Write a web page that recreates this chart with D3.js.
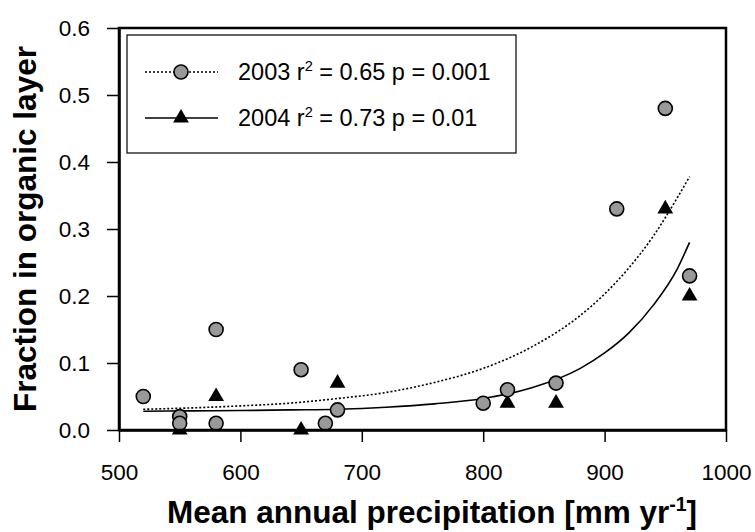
<!DOCTYPE html>
<html>
<head>
    <style>
        body { margin: 0; background: #fff; }
        svg { font-family: "Liberation Sans", Arial, sans-serif; }
        .tick text { font-size: 22.5px; fill: #000; }
        .axis-title { font-size: 31.5px; font-weight: bold; }
        .legend text { font-size: 23.5px; }
    </style>
    <script src="https://d3js.org/d3.v7.min.js"></script>
</head>
<body>
    <script>

        // measured points, 2003 (circles) and 2004 (triangles)
        var x2003 = [520, 550, 550, 580, 580, 650, 670, 680, 800, 820, 860, 910, 950, 970];
        var y2003 = [0.05, 0.02, 0.01, 0.15, 0.01, 0.09, 0.01, 0.03, 0.04, 0.06, 0.07, 0.33, 0.48, 0.23];
        var x2004 = [550, 580, 650, 680, 820, 860, 950, 970];
        var y2004 = [0.00, 0.05, 0.00, 0.07, 0.04, 0.04, 0.33, 0.20];

        // fitted curves
        var fitX    = [520, 560, 600, 640, 680, 720, 760, 800, 840, 880, 900, 920, 940, 960, 970];
        var fit2003 = [0.031, 0.033, 0.036, 0.040, 0.047, 0.056, 0.071, 0.092, 0.124, 0.171, 0.203, 0.242, 0.289, 0.347, 0.378];
        var fit2004 = [0.028, 0.0285, 0.029, 0.030, 0.031, 0.034, 0.039, 0.047, 0.063, 0.092, 0.115, 0.145, 0.186, 0.241, 0.280];

        var xTicks = [500, 600, 700, 800, 900, 1000];
        var yTicks = [0, 0.1, 0.2, 0.3, 0.4, 0.5, 0.6];

        var width = 755,
            height = 532,
            svg = d3.select("body").append("svg").attr("width", width).attr("height", height);

        var x = d3.scaleLinear().domain([500, 1000]).range([119, 726]);
        var y = d3.scaleLinear().domain([0, 0.6]).range([430, 28]);

        // lines
        var line = d3.line()
                     .x(function(d) { return x(d[0]); })
                     .y(function(d) { return y(d[1]); })
                     .curve(d3.curveMonotoneX);

        svg.append("path")
           .attr("d", line(d3.zip(fitX, fit2003)))
           .attr("fill", "none")
           .attr("stroke", "#000")
           .attr("stroke-width", 1.6)
           .attr("stroke-dasharray", "2,2");

        svg.append("path")
           .attr("d", line(d3.zip(fitX, fit2004)))
           .attr("fill", "none")
           .attr("stroke", "#000")
           .attr("stroke-width", 1.6);

        var tri = d3.symbol().type(d3.symbolTriangle).size(108);

        svg.append("g").selectAll("path")
           .data(d3.zip(x2004, y2004))
           .enter().append("path")
           .attr("d", tri)
           .attr("transform", function(d) { return "translate(" + x(d[0]) + "," + y(d[1]) + ")"; })
           .attr("fill", "#000");

        svg.append("g").selectAll("circle")
           .data(d3.zip(x2003, y2003))
           .enter().append("circle")
           .attr("cx", function(d) { return x(d[0]); })
           .attr("cy", function(d) { return y(d[1]); })
           .attr("r", 7)
           .attr("fill", "#999")
           .attr("stroke", "#000")
           .attr("stroke-width", 1.6);

        // frame + axes
        svg.append("rect")
           .attr("x", x.range()[0]).attr("y", y.range()[1])
           .attr("width", x.range()[1] - x.range()[0])
           .attr("height", y.range()[0] - y.range()[1])
           .attr("fill", "none")
           .attr("stroke", "#000")
           .attr("stroke-width", 2.5);

        var xAxis = svg.append("g")
           .attr("transform", "translate(0," + y.range()[0] + ")")
           .call(d3.axisBottom(x).tickValues(xTicks).tickSize(12).tickSizeOuter(0).tickPadding(38).tickFormat(d3.format("d")));

        var yAxis = svg.append("g")
           .attr("transform", "translate(" + x.range()[0] + ",0)")
           .call(d3.axisLeft(y).tickValues(yTicks).tickSize(12).tickSizeOuter(0).tickPadding(17).tickFormat(d3.format(".1f")));

        svg.selectAll(".domain").attr("stroke-width", 2.5);
        svg.selectAll(".tick line").attr("stroke-width", 1.5);
        svg.selectAll(".tick text").attr("font-family", null).attr("font-size", null);
        xAxis.selectAll(".tick text").attr("dy", "0");

        svg.append("text")
           .attr("class", "axis-title")
           .attr("x", 432)
           .attr("y", 523)
           .attr("text-anchor", "middle")
           .text("Mean annual precipitation [mm yr")
           .append("tspan").attr("font-size", "0.62em").attr("dy", "-0.6em").text("-1")
           .select(function() { return this.parentNode; })
           .append("tspan").attr("dy", "0.37em").text("]");

        svg.append("text")
           .attr("class", "axis-title")
           .attr("transform", "translate(36," + ((y.range()[0] + y.range()[1]) / 2) + ") rotate(-90)")
           .attr("text-anchor", "middle")
           .text("Fraction in organic layer");

        // legend
        var legend = svg.append("g").attr("class", "legend");
        legend.append("rect")
              .attr("x", 127).attr("y", 35).attr("width", 389).attr("height", 118)
              .attr("fill", "#fff").attr("stroke", "#000").attr("stroke-width", 1.2);

        var rows = [
            { year: "2003", r2: "0.65", p: "0.001", dash: "2,2", mark: "circle", cy: 72 },
            { year: "2004", r2: "0.73", p: "0.01", dash: null, mark: "tri", cy: 118 }
        ];

        rows.forEach(function(r) {
            legend.append("line")
                  .attr("x1", 145).attr("x2", 218).attr("y1", r.cy).attr("y2", r.cy)
                  .attr("stroke", "#000").attr("stroke-width", 1.6)
                  .attr("stroke-dasharray", r.dash);
            if (r.mark == "circle") {
                legend.append("circle").attr("cx", 181).attr("cy", r.cy).attr("r", 7)
                      .attr("fill", "#999").attr("stroke", "#000").attr("stroke-width", 1.6);
            } else {
                legend.append("path").attr("d", tri)
                      .attr("transform", "translate(181," + r.cy + ")").attr("fill", "#000");
            }
            var t = legend.append("text").attr("x", 238).attr("y", r.cy + 8);
            t.append("tspan").text(r.year + " r");
            t.append("tspan").attr("font-size", "0.62em").attr("dy", "-0.6em").text("2");
            t.append("tspan").attr("dy", "0.37em").text(" = " + r.r2 + " p = " + r.p);
        });
    </script>
</body>
</html>
